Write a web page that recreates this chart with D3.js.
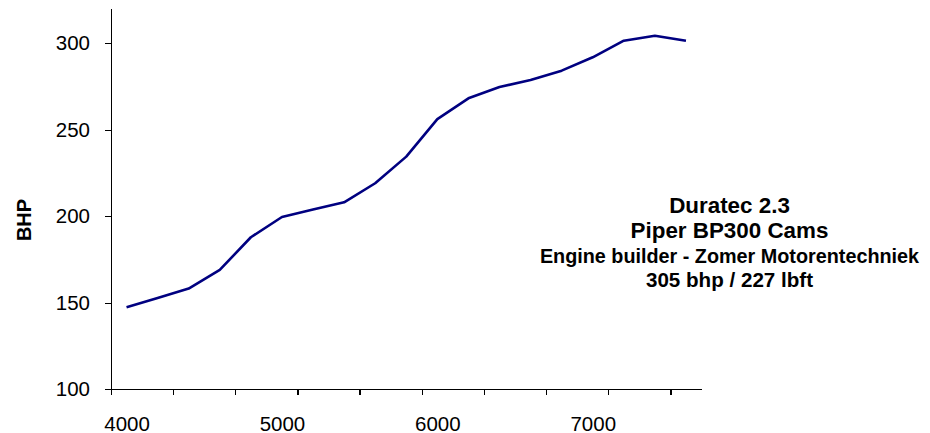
<!DOCTYPE html>
<html lang="en">
  <head>
    <meta charset="UTF-8" />
    <title>Duratec 2.3 BHP</title>
    <script src="https://d3js.org/d3.v7.min.js"></script>
    <style>
      body {
        margin: 0;
        background: #fff;
        font-family: "Liberation Sans", Arial, sans-serif;
      }
      .axis path,
      .axis line {
        stroke: #000;
        stroke-width: 1.3px;
        shape-rendering: crispEdges;
      }
      .axis text {
        font-family: "Liberation Sans", Arial, sans-serif;
        font-size: 20.5px;
        fill: #000;
      }
      .note text {
        font-weight: bold;
        fill: #000;
      }
    </style>
  </head>
  <body>
    <svg id="chart" width="930" height="433"></svg>
    <script>
      // rpm categories (every 200 rpm) and measured power
      const rpm = [4000, 4200, 4400, 4600, 4800, 5000, 5200, 5400, 5600, 5800,
        6000, 6200, 6400, 6600, 6800, 7000, 7200, 7400, 7600];
      const bhp = [147.4, 152.8, 158.2, 169, 187.9, 199.6, 203.9, 208.1, 219.1, 234.5,
        256.2, 268.2, 274.7, 278.8, 284.2, 291.9, 301.5, 304.4, 301.5];
      const yTicks = [100, 150, 200, 250, 300];
      const xLabels = [4000, 5000, 6000, 7000];
      const noteLines = [
        { text: "Duratec 2.3", size: 22.4 },
        { text: "Piper BP300 Cams", size: 22.4 },
        { text: "Engine builder - Zomer Motorentechniek", size: 19.8 },
        { text: "305 bhp / 227 lbft", size: 20.6 },
      ];

      const svg = d3.select("#chart");

      const plotLeft = 111, plotRight = 701.5, plotTop = 8.7, plotBottom = 389.3;

      // category axis: index -> position, categories sit between tick marks
      const x = d3.scaleLinear().domain([-0.5, rpm.length - 0.5]).range([plotLeft, plotRight]);
      const y = d3.scaleLinear().domain([100, 320]).range([plotBottom, plotTop]);

      // y axis
      svg.append("g")
        .attr("class", "axis")
        .attr("transform", `translate(${plotLeft},0)`)
        .call(d3.axisLeft(y).tickValues(yTicks).tickSize(6).tickSizeOuter(0).tickPadding(15));

      // x axis tick marks every two categories
      const boundaries = d3.range(-0.5, rpm.length - 1, 2);
      svg.append("g")
        .attr("class", "axis")
        .attr("transform", `translate(0,${plotBottom})`)
        .call(d3.axisBottom(x).tickValues(boundaries).tickSize(6).tickSizeOuter(0).tickFormat(""));

      // x labels every 1000 rpm
      const lab = svg.append("g")
        .attr("class", "axis")
        .attr("transform", `translate(0,${plotBottom})`)
        .call(d3.axisBottom(x)
          .tickValues(xLabels.map((r) => rpm.indexOf(r)))
          .tickSize(0)
          .tickPadding(27)
          .tickFormat((i) => rpm[i]));
      lab.select(".domain").remove();

      // y axis title
      svg.append("text")
        .attr("transform", `translate(31,220) rotate(-90)`)
        .attr("text-anchor", "middle")
        .style("font-size", "20px")
        .style("font-weight", "bold")
        .text("BHP");

      // power curve
      const line = d3.line()
        .x((d, i) => x(i))
        .y((d) => y(d));

      svg.append("path")
        .datum(bhp)
        .attr("fill", "none")
        .attr("stroke", "#000080")
        .attr("stroke-width", 2.6)
        .attr("stroke-linejoin", "round")
        .attr("d", line);

      // annotation
      const baselines = [212.5, 238.3, 262.7, 286.7];
      svg.append("g")
        .attr("class", "note")
        .selectAll("text")
        .data(noteLines)
        .join("text")
        .attr("x", 729.5)
        .attr("y", (d, i) => baselines[i])
        .attr("text-anchor", "middle")
        .style("font-size", (d) => d.size + "px")
        .text((d) => d.text);
    </script>
  </body>
</html>
